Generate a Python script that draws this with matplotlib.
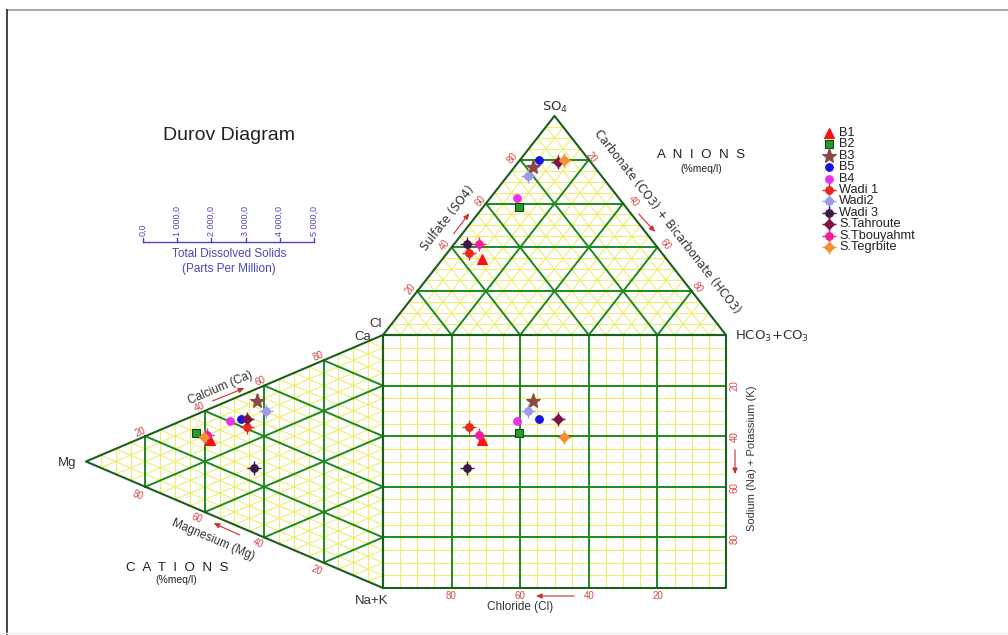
import matplotlib as mpl
mpl.use("Agg")
import matplotlib.pyplot as plt
import numpy as np
from matplotlib.lines import Line2D

mpl.rcParams["font.family"] = ["Liberation Sans", "DejaVu Sans"]

# samples and their ionic composition (%meq/l)
samples = ["B1", "B2", "B3", "B5", "B4", "Wadi 1", "Wadi2", "Wadi 3",
           "S.Tahroute", "S.Tbouyahmt", "S.Tegrbite"]
cl = [53.8, 31.1, 17.8, 14.6, 29.5, 56.3, 21.6, 54.7, 9.4, 51.4, 7.2]
so4 = [34.8, 58.5, 76.8, 79.7, 62.7, 37.3, 72.5, 41.4, 79.1, 41.4, 79.9]
hco3 = [11.4, 10.4, 5.4, 5.7, 7.8, 6.4, 5.9, 3.9, 11.5, 7.2, 12.9]
ca = [29.4, 29.6, 52.8, 42.8, 40.3, 40.8, 50.5, 25.9, 44.0, 30.9, 29.4]
mg = [58.2, 63.1, 42.3, 47.9, 51.4, 45.9, 39.3, 43.4, 45.7, 59.2, 60.2]
nak = [12.4, 7.3, 4.9, 9.3, 8.3, 13.3, 10.2, 30.7, 10.3, 9.9, 10.4]

tds_ticks = [0, 1000, 2000, 3000, 4000, 5000]
tds_labels = ["0,0", "1 000,0", "2 000,0", "3 000,0", "4 000,0", "5 000,0"]
grid_labels = [20, 40, 60, 80]

markers = ["^", "s", "*", "o", "o", "o", "o", "o", "D", "o", "D"]
colors = ["#ff1010", "#2a9a2a", "#8a4848", "#1515dd", "#ee30ee", "#e62a1e",
          "#9c9ce6", "#3c1a4c", "#7e1446", "#ee2296", "#f39030"]
spikes = [False, False, False, False, False, True, True, True, True, True, True]

R = np.sqrt(3) / 2
YELLOW = "#f0ec70"
GREEN = "#1f8a1f"
DKGREEN = "#1c5e1c"
RED = "#d84848"
BLUE = "#4848bc"

W, H = 1008, 635
X0, SX, Y0, SY = 383, 3.43, 588, 2.53


def px(x, y):
    # pixel position -> data coordinates (layout helper)
    return (x - X0) / SX, (Y0 - y) / SY


def anion_xy(c, s, h):
    return h + s / 2.0, 100 + R * s


def cation_xy(c, m, n):
    return -R * m, c + m / 2.0


fig = plt.figure(figsize=(W / 100, H / 100), dpi=100)
ax = fig.add_axes([0, 0, 1, 1])
ax.set_xlim(px(0, 0)[0], px(W, 0)[0])
ax.set_ylim(px(0, H)[1], px(0, 0)[1])
ax.axis("off")


def tri_grid(func, step, color, lw, z):
    for k in range(step, 100, step):
        for i in range(3):
            a = [0, 0, 0]
            b = [0, 0, 0]
            a[i] = b[i] = k
            a[(i + 1) % 3] = 100 - k
            b[(i + 2) % 3] = 100 - k
            p, q = func(*a), func(*b)
            ax.plot([p[0], q[0]], [p[1], q[1]], color=color, lw=lw, zorder=z)


# minor grid
tri_grid(anion_xy, 5, YELLOW, 0.8, 1)
tri_grid(cation_xy, 5, YELLOW, 0.8, 1)
for k in range(5, 100, 5):
    ax.plot([k, k], [0, 100], color=YELLOW, lw=0.8, zorder=1)
    ax.plot([0, 100], [k, k], color=YELLOW, lw=0.8, zorder=1)

# major grid
tri_grid(anion_xy, 20, GREEN, 1.4, 2)
tri_grid(cation_xy, 20, GREEN, 1.4, 2)
for k in range(20, 100, 20):
    ax.plot([k, k], [0, 100], color=GREEN, lw=1.4, zorder=2)
    ax.plot([0, 100], [k, k], color=GREEN, lw=1.4, zorder=2)

# outlines
ax.plot([0, 100, 100, 0, 0], [0, 0, 100, 100, 0], color=DKGREEN, lw=1.5, zorder=3)
for func in (anion_xy, cation_xy):
    v = [func(100, 0, 0), func(0, 100, 0), func(0, 0, 100), func(100, 0, 0)]
    ax.plot([p[0] for p in v], [p[1] for p in v], color=DKGREEN, lw=1.5, zorder=3)


def draw_point(x, y, i):
    ms = {"*": 11, "^": 6.5, "s": 5.5, "D": 5}.get(markers[i], 5.5)
    mec = "#0c4a0c" if markers[i] == "s" else colors[i]
    if spikes[i]:
        ax.plot(x, y, marker="+", ms=10, mew=1.0, color=colors[i], zorder=5)
    ax.plot(x, y, marker=markers[i], ms=ms, mfc=colors[i], mec=mec, mew=0.8,
            ls="none", zorder=6)


for i in range(len(samples)):
    xa, ya = anion_xy(cl[i], so4[i], hco3[i])
    xc, yc = cation_xy(ca[i], mg[i], nak[i])
    draw_point(xa, ya, i)
    draw_point(xc, yc, i)
    draw_point(xa, yc, i)


def t(x, y, s, **kw):
    ax.text(*px(x, y), s, **kw)


# vertex labels
t(555, 107, "SO$_4$", ha="center", va="center", fontsize=9.5, family="DejaVu Sans", color="#333333")
t(735, 336, "HCO$_3$+CO$_3$", ha="left", va="center", fontsize=9.5, family="DejaVu Sans", color="#333333")
t(376, 324, "Cl", ha="center", va="center", fontsize=9.5, color="#333333")
t(363, 337, "Ca", ha="center", va="center", fontsize=9.5, color="#333333")
t(67, 463, "Mg", ha="center", va="center", fontsize=9.5, color="#333333")
t(372, 601, "Na+K", ha="center", va="center", fontsize=9.5, color="#333333")

# axis numbers
num = dict(ha="center", va="center", fontsize=7, color=RED)
for k, (x, y) in zip(grid_labels, [(411, 289), (445, 245), (480, 201), (513, 158)]):
    t(x, y, str(k), rotation=52, **num)
for k, (x, y) in zip(grid_labels, [(591, 157), (633, 201), (665, 244), (697, 287)]):
    t(x, y, str(k), rotation=-52, **num)
for k, (x, y) in zip(grid_labels, [(140, 432), (200, 407), (260, 381), (318, 356)]):
    t(x, y, str(k), rotation=23, **num)
for k, (x, y) in zip(grid_labels, [(317, 570), (258, 543), (197, 518), (138, 495)]):
    t(x, y, str(k), rotation=-23, **num)
for k, (x, y) in zip(grid_labels, [(658, 596), (589, 596), (520, 596), (451, 596)]):
    t(x, y, str(k), **num)
for k, (x, y) in zip(grid_labels, [(735, 386), (735, 437), (735, 488), (735, 539)]):
    t(x, y, str(k), rotation=90, **num)

# axis titles
t(448, 218, "Sulfate (SO4)", rotation=52, ha="center", va="center", fontsize=8.5,
  family="DejaVu Sans", color="#333333")
t(667, 222, "Carbonate (CO3) + Bicarbonate (HCO3)", rotation=-52, ha="center",
  va="center", fontsize=8.3, family="DejaVu Sans", color="#333333")
t(220, 388, "Calcium (Ca)", rotation=23, ha="center", va="center", fontsize=8.5, color="#333333")
t(213, 540, "Magnesium (Mg)", rotation=-23, ha="center", va="center", fontsize=8.5, color="#333333")
t(520, 607, "Chloride (Cl)", ha="center", va="center", fontsize=8.5, color="#333333")
t(752, 458, "Sodium (Na) + Potassium (K)", rotation=90, ha="center", va="center",
  fontsize=8, color="#333333")

arrow = dict(arrowstyle="-|>,head_length=0.35,head_width=0.15", color="#cc3030", lw=0.8)
for (x1, y1), (x2, y2) in [((452, 236), (471, 211)), ((637, 212), (657, 234)),
                           ((210, 402), (247, 387)), ((242, 536), (211, 522)),
                           ((577, 596), (533, 596)), ((735, 447), (735, 477))]:
    ax.annotate("", xy=px(x2, y2), xytext=px(x1, y1), arrowprops=arrow)

t(701, 155, "A  N  I  O  N  S", ha="center", va="center", fontsize=9.6, color="#222222")
t(701, 169, "(%meq/l)", ha="center", va="center", fontsize=7.5, color="#222222")
t(177, 568, "C  A  T  I  O  N  S", ha="center", va="center", fontsize=9.6, color="#222222")
t(176, 580, "(%meq/l)", ha="center", va="center", fontsize=7.5, color="#222222")

# title and TDS scale
t(229, 136, "Durov Diagram", ha="center", va="center", fontsize=14, color="#222222")
tx0, tx1, ty = 143, 314, 242
ax.plot([px(tx0, ty)[0], px(tx1, ty)[0]], [px(0, ty)[1]] * 2, color=BLUE, lw=1.0)
for v_, lab in zip(tds_ticks, tds_labels):
    xx = tx0 + (tx1 - tx0) * v_ / tds_ticks[-1]
    ax.plot([px(xx, 0)[0]] * 2, [px(0, ty)[1], px(0, ty - 4)[1]], color=BLUE, lw=1.0)
    t(xx, ty - 6, lab, rotation=90, ha="center", va="bottom", fontsize=6.5, color=BLUE)
t(229, 254, "Total Dissolved Solids", ha="center", va="center", fontsize=8.5, color=BLUE)
t(229, 269, "(Parts Per Million)", ha="center", va="center", fontsize=8.5, color=BLUE)

# legend
for i, name in enumerate(samples):
    yy = 133 + i * 11.4
    draw_point(*px(829, yy), i)
    t(839, yy, name, ha="left", va="center", fontsize=9.2, color="#222222")

# page frame
fig.add_artist(Line2D([7 / W, 1], [1 - 9.5 / H] * 2, color="#aaaaaa", lw=1.5))
fig.add_artist(Line2D([7 / W] * 2, [0, 1 - 9.5 / H], color="#222222", lw=1.2))
fig.add_artist(Line2D([0, 1], [2 / H] * 2, color="#eeeeee", lw=1.0))

fig.savefig("out.png", dpi=100)
